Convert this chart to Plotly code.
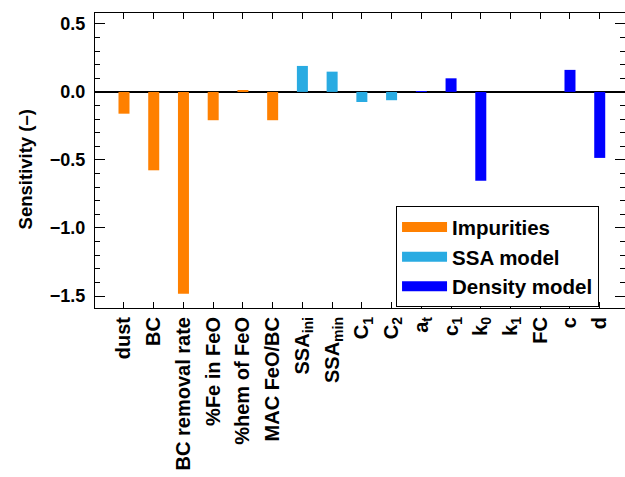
import plotly.graph_objects as go

categories = ["dust", "BC", "BC removal rate", "%Fe in FeO", "%hem of FeO", "MAC FeO/BC",
              "SSA<sub>ini</sub>", "SSA<sub>min</sub>", "C<sub>1</sub>", "C<sub>2</sub>",
              "a<sub>t</sub>", "c<sub>1</sub>", "k<sub>0</sub>", "k<sub>1</sub>", "FC", "c", "d"]
sensitivity = [-0.16, -0.576, -1.483, -0.208, 0.007, -0.208,
               0.191, 0.149, -0.074, -0.061,
               0.003, 0.10, -0.652, 0.0, 0.0, 0.162, -0.485]
group = ["Impurities"] * 6 + ["SSA model"] * 4 + ["Density model"] * 7
group_names = ["Impurities", "SSA model", "Density model"]
group_colors = ["#FF8000", "#29ABE2", "#0000FF"]
y_ticks = [0.5, 0.0, -0.5, -1.0, -1.5]

FONT = "Liberation Sans, Arial, sans-serif"
idx = list(range(len(categories)))

fig = go.Figure()
for name, color in zip(group_names, group_colors):
    xs = [i for i in idx if group[i] == name]
    ys = [sensitivity[i] for i in xs]
    fig.add_trace(go.Bar(x=xs, y=ys, width=0.37, marker=dict(color=color, line=dict(width=0)),
                         name=name, showlegend=False))
    fig.add_trace(go.Scatter(x=[None], y=[None], mode="lines", name=name,
                             line=dict(color=color, width=10), showlegend=True))

fig.update_layout(
    width=625, height=477,
    margin=dict(l=95, r=0, t=13, b=169),
    paper_bgcolor="white", plot_bgcolor="white",
    barmode="overlay",
    font=dict(family=FONT, size=18, color="black", weight="bold"),
    legend=dict(x=0.568, y=0.345, xanchor="left", yanchor="top",
                bordercolor="black", borderwidth=1, bgcolor="white",
                font=dict(size=20.5, family=FONT, weight="bold"),
                itemwidth=45, tracegroupgap=0),
    showlegend=True,
    annotations=[dict(text="Sensitivity (–)", xref="paper", yref="paper",
                      x=-0.132, y=0.47, xanchor="center", yanchor="middle",
                      textangle=-90, showarrow=False,
                      font=dict(size=18.5, family=FONT, weight="bold", color="black"))],
)
fig.update_xaxes(
    range=[-0.975, 16.85], tickvals=idx, ticktext=categories, tickangle=-90,
    ticks="inside", ticklen=6, tickcolor="black", showline=True, linecolor="black",
    linewidth=1, mirror="ticks", showgrid=False, zeroline=False,
    tickfont=dict(size=20, family=FONT, weight="bold"),
)
fig.update_yaxes(
    range=[-1.588, 0.58], tickvals=y_ticks, ticktext=["0.5", "0.0", "−0.5", "−1.0", "−1.5"],
    ticks="inside", ticklen=10, tickcolor="black", showline=True, linecolor="black",
    linewidth=1, mirror="ticks", showgrid=False,
    zeroline=True, zerolinecolor="black", zerolinewidth=1.5,
    minor=dict(dtick=0.1, tick0=0, ticks="inside", ticklen=5, tickcolor="black", showgrid=False),
    tickfont=dict(size=18, family=FONT, weight="bold"),
    ticklabelstandoff=5,
)

fig.write_html("out.html")
